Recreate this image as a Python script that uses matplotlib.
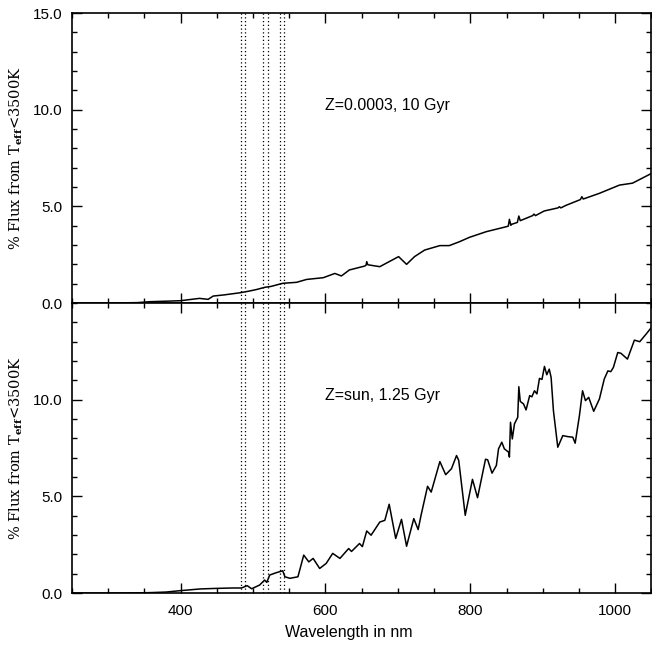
import matplotlib
matplotlib.use("Agg")
import matplotlib.pyplot as plt
from matplotlib.ticker import MultipleLocator

# top panel: Z=0.0003, 10 Gyr
wl_top = [250, 300, 340, 358, 385, 400, 426, 438, 445, 460, 482, 495, 505, 516, 525,
          541, 560, 574, 597, 613, 622, 633, 654, 656, 657, 658.5, 660, 675, 689, 701,
          712, 723, 737, 758, 771, 785, 799, 822, 850, 852.5, 854, 856, 857, 865, 867,
          869, 886, 888, 890, 902, 921, 923, 925, 932, 952, 954, 956, 978, 1006, 1024, 1050]
flux_top = [0.0, 0.0, 0.02, 0.07, 0.10, 0.12, 0.24, 0.19, 0.36, 0.42, 0.53, 0.62, 0.70, 0.81, 0.86,
            1.02, 1.07, 1.22, 1.31, 1.53, 1.40, 1.71, 1.91, 1.95, 2.14, 1.98, 1.97, 1.88, 2.16, 2.40,
            2.00, 2.40, 2.74, 2.97, 2.97, 3.17, 3.40, 3.69, 3.95, 3.98, 4.33, 4.02, 4.07, 4.17, 4.50,
            4.26, 4.52, 4.60, 4.52, 4.76, 4.92, 4.98, 4.92, 5.05, 5.35, 5.50, 5.38, 5.67, 6.10, 6.20, 6.70]

# bottom panel: Z=sun, 1.25 Gyr
wl_bot = [250, 300, 340, 358, 380, 399, 427, 450, 472, 484, 492, 498, 509, 516, 519, 523, 532,
          541, 544, 551, 562, 570, 577, 583, 592, 601, 610, 620, 632, 636, 647, 651, 657, 663,
          675, 682, 688, 697, 705, 712, 722, 728, 732, 741, 746, 758, 766, 774, 781, 784, 793,
          803, 810, 821, 824, 830, 836, 839, 843.5, 847, 853, 854, 855.5, 858, 861, 865.5, 867,
          869, 873.5, 877, 882, 885, 888.6, 892, 895.5, 899, 902.4, 905.6, 909, 911.6, 914.8,
          920.8, 927.7, 934.6, 941.5, 944.8, 950.7, 955, 959, 963.5, 970.4, 978.3, 985, 990,
          994, 997.6, 1003.6, 1008, 1017, 1026.6, 1034, 1042.7, 1050]
flux_bot = [0.0, 0.0, 0.01, 0.02, 0.05, 0.12, 0.21, 0.24, 0.26, 0.26, 0.38, 0.22, 0.41, 0.67, 0.55, 0.93, 1.05,
            1.15, 0.84, 0.76, 0.84, 1.96, 1.61, 1.79, 1.27, 1.53, 2.05, 1.79, 2.30, 2.15, 2.56, 2.40, 3.21, 2.99,
            3.67, 3.76, 4.59, 2.82, 3.81, 2.42, 3.85, 3.28, 4.02, 5.52, 5.22, 6.80, 6.12, 6.43, 7.11, 6.86, 4.02,
            5.88, 4.93, 6.92, 6.89, 6.20, 6.60, 7.46, 7.80, 7.46, 7.28, 7.03, 8.83, 7.97, 8.75, 9.09, 10.67,
            9.91, 9.78, 9.47, 10.21, 10.15, 10.46, 10.30, 11.10, 11.05, 11.72, 11.29, 11.58, 11.15, 9.43,
            7.54, 8.14, 8.09, 8.06, 7.75, 9.18, 10.46, 9.95, 10.12, 9.40, 10.04, 11.07, 11.49,
            11.45, 11.67, 12.44, 12.40, 12.10, 13.08, 13.00, 13.39, 13.73]

# index band edges (nm)
band_edges = [483, 489, 514, 520, 537, 543]

labels = ["Z=0.0003, 10 Gyr", "Z=sun, 1.25 Gyr"]
ylabel = r"% Flux from T$_{\mathbf{eff}}$<3500K"

plt.rcParams["font.family"] = ["Liberation Sans", "DejaVu Sans"]
plt.rcParams["mathtext.fontset"] = "dejavuserif"

fig = plt.figure(figsize=(6.52, 6.45), dpi=100)
ax1 = fig.add_axes([0.1104, 0.5302, 0.8886, 0.4496])
ax2 = fig.add_axes([0.1104, 0.0806, 0.8886, 0.4496], sharex=ax1)

for ax, wl, fl, lab in [(ax1, wl_top, flux_top, labels[0]), (ax2, wl_bot, flux_bot, labels[1])]:
    ax.plot(wl, fl, color="black", lw=1.1)
    for b in band_edges:
        ax.axvline(b, color="black", lw=0.9, ls=(0, (1, 2)))
    ax.set_xlim(250, 1050)
    ax.set_ylim(0, 15)
    ax.xaxis.set_major_locator(MultipleLocator(200))
    ax.xaxis.set_minor_locator(MultipleLocator(50))
    ax.yaxis.set_major_locator(MultipleLocator(5))
    ax.yaxis.set_minor_locator(MultipleLocator(1))
    ax.yaxis.set_major_formatter(plt.FuncFormatter(lambda v, p: f"{v:.1f}"))
    ax.tick_params(which="both", direction="in", top=True, right=True, labelsize=11, width=1)
    ax.tick_params(which="major", length=7.5)
    ax.tick_params(which="minor", length=3.8)
    ax.tick_params(axis="y", pad=6.5)
    ax.tick_params(axis="x", pad=8)
    for s in ax.spines.values():
        s.set_linewidth(1.2)
    ax.text(600, 10.2, lab, ha="left", va="center", fontsize=11.5)
    ax.set_ylabel(ylabel, family="DejaVu Serif", fontsize=10.5, labelpad=6)

ax1.tick_params(labelbottom=False)
ax2.set_yticks([0, 5, 10])
ax2.set_xlabel("Wavelength in nm", fontsize=11.5)
ax2.xaxis.set_label_coords(0.478, -0.112)

fig.savefig("out.png", dpi=100)
